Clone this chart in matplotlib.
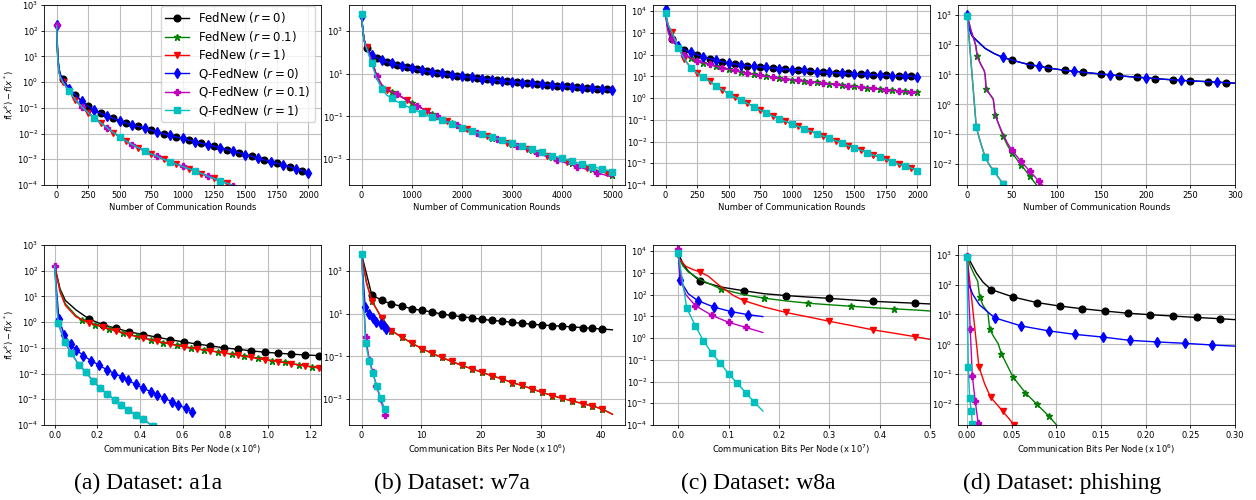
import matplotlib
matplotlib.use("Agg")
import matplotlib.pyplot as plt
from matplotlib.ticker import FixedLocator, NullLocator, FormatStrFormatter

plt.rcParams.update({
    "font.size": 6,
    "axes.linewidth": 0.6,
    "xtick.major.size": 2.2, "ytick.major.size": 2.2,
    "xtick.major.width": 0.6, "ytick.major.width": 0.6,
    "xtick.major.pad": 1.8, "ytick.major.pad": 1.8,
    "axes.labelpad": 2.4,
    "grid.linewidth": 0.8,
    "lines.linewidth": 1.0,
    "lines.markersize": 5,
})

labels = ["FedNew ($r=0$)", "FedNew ($r=0.1$)", "FedNew ($r=1$)",
          "Q-FedNew ($r=0$)", "Q-FedNew ($r=0.1$)", "Q-FedNew ($r=1$)"]
colors = ["k", "g", "r", "b", "m", "c"]
markers = ["o", "*", "v", "d", "P", "s"]
captions = ["(a) Dataset: a1a", "(b) Dataset: w7a", "(c) Dataset: w8a", "(d) Dataset: phishing"]

# ---------------- a1a, rounds ----------------
a1a_rounds = [0, 5, 10, 20, 30] + list(range(50, 2001, 50))
a1a_rounds_r0 = [160, 40, 9, 3.2, 2.0, 1.3, 0.55, 0.32, 0.18, 0.115, 0.08, 0.062, 0.048, 0.039, 0.032,
                 0.026, 0.022, 0.019, 0.016, 0.0135, 0.0115, 0.0098, 0.0085, 0.0074, 0.0065, 0.0056,
                 0.0049, 0.0042, 0.0037, 0.0032, 0.0028, 0.0024, 0.0021, 0.0018, 0.0015, 0.0013,
                 0.0011, 0.00095, 0.00082, 0.0007, 0.0006, 0.00051, 0.00043, 0.00036, 0.0003]
a1a_rounds_fast = [160, 30, 7, 2.4, 1.6, 1.0, 0.45, 0.2, 0.11, 0.065, 0.04, 0.026, 0.017, 0.011, 0.0075,
                   0.0052, 0.0037, 0.0028, 0.0021, 0.0016, 0.0013, 0.001, 0.0008, 0.00065, 0.00053,
                   0.00043, 0.00035, 0.00028, 0.00022, 0.00018, 0.00014, 0.00012, 0.000095]

# ---------------- w7a, rounds ----------------
w7a_rounds = [0, 20, 50] + list(range(100, 5001, 100))
w7a_rounds_r0 = [5000, 1500, 350, 150, 75, 54, 42, 35, 30, 26, 23, 20, 18, 16, 14.5, 13, 12, 11, 10.2, 9.4,
                 8.7, 8.1, 7.5, 7.0, 6.6, 6.2, 5.8, 5.5, 5.2, 4.9, 4.6, 4.4, 4.2, 4.0, 3.8, 3.6, 3.45,
                 3.3, 3.15, 3.0, 2.85, 2.72, 2.6, 2.5, 2.4, 2.3, 2.2, 2.12, 2.04, 1.96, 1.88, 1.82, 1.76]
w7a_rounds_fednew = [6000, 1500, 400, 170, 45, 8, 3.0, 1.8, 1.4, 1.1, 0.8, 0.6, 0.42, 0.32, 0.24, 0.18,
                     0.135, 0.1, 0.078, 0.061, 0.048, 0.038, 0.031, 0.025, 0.021, 0.017, 0.0145, 0.012,
                     0.0101, 0.0085, 0.0072, 0.006, 0.0051, 0.0043, 0.0036, 0.003, 0.0026, 0.0022,
                     0.0018, 0.0015, 0.0013, 0.0011, 0.00092, 0.00078, 0.00066, 0.00056, 0.00048,
                     0.00041, 0.00035, 0.0003, 0.00026, 0.00022, 0.00019]
w7a_rounds_q01 = [6000, 1500, 400, 170, 45, 8, 3.0, 1.8, 1.4, 1.1, 0.8, 0.6, 0.42, 0.32, 0.24, 0.18,
                  0.135, 0.1, 0.078, 0.061, 0.048, 0.038, 0.031, 0.025, 0.021, 0.017, 0.0145, 0.012,
                  0.0101, 0.0085, 0.0072, 0.006, 0.0049, 0.0041, 0.0034, 0.0028, 0.0023, 0.0019,
                  0.0016, 0.0013, 0.0011, 0.0009, 0.00076, 0.00064, 0.00054, 0.00046, 0.00039,
                  0.00033, 0.00028, 0.00024, 0.0002, 0.00017, 0.00015]
w7a_rounds_q1 = [6000, 1500, 350, 150, 30, 6, 2.0, 1.0, 0.7, 0.5, 0.4, 0.3, 0.23, 0.18, 0.14, 0.115,
                 0.095, 0.08, 0.068, 0.055, 0.045, 0.037, 0.03, 0.025, 0.021, 0.018, 0.015, 0.0125,
                 0.0105, 0.009, 0.0077, 0.0065, 0.0055, 0.0047, 0.004, 0.0034, 0.0029, 0.0024, 0.0021,
                 0.0017, 0.0015, 0.0013, 0.0011, 0.00094, 0.0008, 0.0007, 0.0006, 0.00052, 0.00046,
                 0.0004, 0.00034, 0.0003, 0.00026]

# ---------------- w8a, rounds ----------------
w8a_rounds = [0, 10, 25] + list(range(50, 2001, 50))
w8a_rounds_r0 = [12000, 3000, 1200, 500, 250, 170, 125, 100, 80, 65, 55, 47, 41, 37, 34, 31, 29, 27,
                 25.5, 24, 22.5, 21.5, 20.5, 19.5, 18.5, 17.5, 16.6, 15.8, 15.2, 14.6, 14.1, 13.6,
                 13.1, 12.7, 12.2, 11.7, 11.3, 11.0, 10.7, 10.4, 10.1, 9.9, 9.6]
w8a_rounds_r01 = [8000, 2500, 900, 500, 200, 100, 70, 53, 42, 35, 29, 25, 21, 18.5, 16, 14, 12.5, 11,
                  10, 9.2, 8.3, 7.6, 7.0, 6.5, 6.0, 5.6, 5.2, 4.8, 4.5, 4.2, 3.9, 3.7, 3.45, 3.2, 3.0,
                  2.8, 2.6, 2.45, 2.3, 2.15, 2.0, 1.9, 1.8]
w8a_rounds_r1 = [8000, 4000, 2000, 1100, 210, 60, 25, 14, 9.3, 5.8, 3.7, 2.4, 1.6, 1.1, 0.8, 0.57, 0.4,
                 0.28, 0.2, 0.15, 0.11, 0.085, 0.065, 0.05, 0.039, 0.03, 0.023, 0.018, 0.014, 0.011,
                 0.0084, 0.0065, 0.005, 0.004, 0.0031, 0.0024, 0.0019, 0.0015, 0.00115, 0.0009,
                 0.00075, 0.0006, 0.00045]

# ---------------- phishing, rounds ----------------
phishing_rounds = [0, 2, 5] + list(range(10, 301, 10))
phishing_rounds_r0 = [1000, 350, 200, 140, 74, 50, 37, 30, 25, 21, 19, 16.5, 15, 13.6, 12.8, 11.8, 11,
                      10.3, 9.7, 9.0, 8.5, 8.1, 7.7, 7.3, 6.9, 6.6, 6.3, 6.1, 5.9, 5.7, 5.5, 5.3, 5.1]
phishing_rounds_mid = [0, 4, 8, 9.5, 11, 15, 19, 20, 21, 25, 29, 30, 31, 35, 40, 45, 50, 55, 60, 65,
                       70, 75, 80, 85]
phishing_rounds_fednew01 = [900, 300, 130, 90, 40, 22, 13, 9, 3.3, 2.2, 1.5, 0.9, 0.45, 0.22, 0.085,
                            0.042, 0.024, 0.015, 0.0095, 0.0062, 0.0039, 0.0025, 0.0016, 0.001]
phishing_rounds_q01 = [900, 300, 130, 90, 40, 22, 13, 9, 3.3, 2.2, 1.5, 0.9, 0.45, 0.22, 0.1, 0.05,
                       0.029, 0.019, 0.0125, 0.0085, 0.0057, 0.004, 0.0027, 0.0019]
phishing_rounds_fast = [0, 5, 10, 15, 20, 25, 30, 35, 40]
phishing_rounds_r1 = [870, 12, 0.17, 0.05, 0.017, 0.009, 0.0058, 0.0035, 0.0022]

# ---------------- a1a, bits (x 1e6) ----------------
a1a_bits_x = [0, 0.025, 0.05, 0.1, 0.16, 0.225, 0.29, 0.35, 0.415, 0.48, 0.54, 0.605, 0.67, 0.73,
              0.795, 0.86, 0.92, 0.985, 1.05, 1.11, 1.175, 1.24, 1.3]
a1a_bits_fednew0 = [155, 20, 7, 3.0, 1.35, 0.8, 0.57, 0.42, 0.33, 0.26, 0.21, 0.17, 0.14, 0.12, 0.1,
                    0.088, 0.077, 0.068, 0.062, 0.057, 0.053, 0.05, 0.047]
a1a_bits_fednew1 = [155, 15, 4.5, 1.6, 0.95, 0.65, 0.45, 0.32, 0.24, 0.18, 0.14, 0.11, 0.09, 0.076,
                    0.063, 0.052, 0.043, 0.035, 0.029, 0.024, 0.02, 0.0165, 0.014]
a1a_bits_x01 = [0, 0.025, 0.05, 0.1, 0.13, 0.19, 0.255, 0.32, 0.385, 0.45, 0.51, 0.575, 0.64, 0.70,
                0.765, 0.83, 0.89, 0.955, 1.02, 1.08, 1.145, 1.21, 1.27]
a1a_bits_fednew01 = [155, 18, 5.2, 1.8, 1.2, 0.8, 0.55, 0.39, 0.28, 0.21, 0.16, 0.125, 0.1, 0.083,
                     0.07, 0.058, 0.048, 0.039, 0.032, 0.027, 0.022, 0.018, 0.0155]
a1a_bits_xq0 = [0, 0.02, 0.045, 0.075, 0.1, 0.135, 0.17, 0.21, 0.245, 0.28, 0.315, 0.345, 0.38, 0.415,
                0.45, 0.48, 0.515, 0.55, 0.58, 0.615, 0.645, 0.66]
a1a_bits_q0 = [155, 1.3, 0.33, 0.14, 0.085, 0.05, 0.032, 0.021, 0.014, 0.01, 0.0075, 0.0055, 0.0038,
               0.0027, 0.002, 0.0015, 0.0011, 0.0008, 0.0006, 0.00045, 0.00033, 0.00029]
a1a_bits_xq = [0, 0.016, 0.047, 0.078, 0.113, 0.146, 0.18, 0.214, 0.246, 0.282, 0.313, 0.344, 0.38,
               0.415, 0.46]
a1a_bits_q = [155, 0.94, 0.17, 0.063, 0.022, 0.0115, 0.0052, 0.0027, 0.0016, 0.00095, 0.0006, 0.00039,
              0.00025, 0.00017, 0.00009]

# ---------------- w7a, bits (x 1e6) ----------------
w7a_bits_x0 = [0, 1.7, 3.4, 5.0, 6.7, 8.4, 10.1, 11.8, 13.4, 15.1, 16.8, 18.5, 20.2, 21.8, 23.5, 25.2,
               26.9, 28.6, 30.2, 31.9, 33.6, 35.3, 37.0, 38.6, 40.3, 42.0]
w7a_bits_fednew0 = [6000, 76, 41, 28, 22, 17, 14, 12, 9.5, 8.2, 7.1, 6.3, 5.4, 4.8, 4.4, 3.9, 3.5, 3.2,
                    2.9, 2.75, 2.55, 2.4, 2.2, 2.05, 1.9, 1.75]
w7a_bits_x1 = [0, 0.8, 1.7, 3.4, 5.0, 6.7, 8.4, 10.1, 11.8, 13.4, 15.1, 16.8, 18.5, 20.2, 21.8, 23.5,
               25.2, 26.9, 28.6, 30.2, 31.9, 33.6, 35.3, 37.0, 38.6, 40.3, 42.0]
w7a_bits_fednew1 = [6000, 300, 40, 6, 1.6, 0.8, 0.42, 0.23, 0.14, 0.09, 0.058, 0.038, 0.026, 0.018,
                    0.0125, 0.009, 0.006, 0.0044, 0.003, 0.0021, 0.0015, 0.0011, 0.00083, 0.00063,
                    0.00049, 0.00035, 0.0002]
w7a_bits_xq0 = [0, 0.6, 1.2, 1.9, 2.5, 3.2, 3.7, 4.1]
w7a_bits_q0 = [6000, 21, 9.6, 6.3, 4.2, 3.3, 2.6, 1.9]
w7a_bits_xq01 = [0, 0.67, 1.3, 1.9, 2.5, 3.2, 3.9]
w7a_bits_q01 = [6000, 0.85, 0.07, 0.018, 0.004, 0.001, 0.00019]
w7a_bits_xq1 = [0, 0.67, 1.28, 1.84, 2.6, 3.2, 3.9]
w7a_bits_q1 = [6000, 0.42, 0.063, 0.017, 0.004, 0.0011, 0.00035]

# ---------------- w8a, bits (x 1e7) ----------------
w8a_bits_x0 = [0, 0.01, 0.02, 0.043, 0.086, 0.13, 0.17, 0.214, 0.257, 0.3, 0.343, 0.386, 0.43, 0.471, 0.5]
w8a_bits_fednew0 = [8000, 2500, 1200, 420, 220, 150, 110, 90, 77, 67, 57, 49, 44, 40, 37]
w8a_bits_x01 = [0, 0.01, 0.02, 0.043, 0.085, 0.13, 0.171, 0.214, 0.258, 0.3, 0.343, 0.386, 0.429, 0.471, 0.5]
w8a_bits_fednew01 = [5000, 2000, 1100, 500, 180, 100, 68, 51, 40, 34, 29, 25, 22, 19.5, 17.6]
w8a_bits_x1 = [0, 0.015, 0.03, 0.043, 0.06, 0.075, 0.09, 0.11, 0.13, 0.17, 0.214, 0.257, 0.3, 0.343,
               0.386, 0.43, 0.471, 0.5]
w8a_bits_fednew1 = [5000, 2000, 1400, 1100, 700, 350, 190, 90, 53, 27, 15, 9.5, 5.9, 3.8, 2.4, 1.65,
                    1.15, 0.87]
w8a_bits_xq0 = [0, 0.004, 0.02, 0.0385, 0.072, 0.105, 0.138, 0.168]
w8a_bits_q0 = [10000, 450, 110, 53, 26, 16.5, 12, 9.7]
w8a_bits_xq01 = [0, 0.005, 0.015, 0.034, 0.067, 0.1, 0.134, 0.168]
w8a_bits_q01 = [12000, 500, 100, 31, 11, 5.3, 3.1, 1.8]
w8a_bits_xq1 = [0, 0.017, 0.034, 0.05, 0.067, 0.084, 0.1, 0.117, 0.134, 0.15, 0.168]
w8a_bits_q1 = [8000, 24, 3.7, 0.75, 0.2, 0.068, 0.023, 0.0084, 0.0031, 0.0012, 0.00044]

# ---------------- phishing, bits (x 1e6) ----------------
phishing_bits_x0 = [0, 0.005, 0.0105, 0.018, 0.027, 0.052, 0.078, 0.104, 0.129, 0.154, 0.18, 0.205,
                    0.231, 0.257, 0.283, 0.31]
phishing_bits_fednew0 = [950, 500, 245, 120, 68, 38, 25, 19, 15.5, 13, 11, 9.8, 8.8, 7.9, 7.2, 6.4]
phishing_bits_x01 = [0, 0.004, 0.008, 0.012, 0.0142, 0.018, 0.0235, 0.0254, 0.03, 0.035, 0.0385, 0.045,
                     0.0515, 0.0654, 0.0784, 0.0915, 0.101]
phishing_bits_fednew01 = [900, 400, 220, 130, 39, 20, 11.5, 3.2, 1.8, 1.05, 0.49, 0.2, 0.081, 0.024,
                          0.0098, 0.004, 0.0019]
phishing_bits_x1 = [0, 0.005, 0.0134, 0.02, 0.0265, 0.04, 0.053]
phishing_bits_fednew1 = [950, 40, 0.18, 0.046, 0.017, 0.0058, 0.002]
phishing_bits_xq0 = [0, 0.002, 0.0067, 0.014, 0.031, 0.061, 0.092, 0.121, 0.152, 0.182, 0.213, 0.244,
                     0.274, 0.31]
phishing_bits_q0 = [1000, 100, 46, 21, 7.7, 4.1, 2.8, 2.15, 1.75, 1.36, 1.2, 1.08, 0.95, 0.84]
phishing_bits_xq01 = [0, 0.0037, 0.006, 0.0093, 0.0125]
phishing_bits_q01 = [900, 3.3, 0.088, 0.0126, 0.0024]
phishing_bits_xq1 = [0, 0.0015, 0.003, 0.0049, 0.0062]
phishing_bits_q1 = [850, 0.17, 0.016, 0.0058, 0.0021]


def on_grid(x, start, step):
    return [i for i, v in enumerate(x) if v >= start and (v - start) % step == 0]


def draw(ax, curves):
    for k, (x, y, me) in enumerate(curves):
        if isinstance(me, tuple):
            me = on_grid(x[:len(y)], *me)
        ax.plot(x[:len(y)], y, color=colors[k], marker=markers[k], markevery=me,
                ms=5 if markers[k] == "d" else 4.8, label=labels[k])


fig = plt.figure(figsize=(12.56, 5.0), dpi=100)
lefts = [44, 349, 653, 958]
widths = [277, 276, 277, 277]
W, H = 1256, 500

rounds_curves = [
    [(a1a_rounds, a1a_rounds_r0, (50, 100)), (a1a_rounds, a1a_rounds_fast, (100, 200)),
     (a1a_rounds, a1a_rounds_fast, (50, 100)), (a1a_rounds, a1a_rounds_r0, (0, 100)),
     (a1a_rounds, a1a_rounds_fast, (0, 200)), (a1a_rounds, a1a_rounds_fast, (100, 200))],
    [(w7a_rounds, w7a_rounds_r0, (100, 200)), (w7a_rounds, w7a_rounds_fednew, (200, 400)),
     (w7a_rounds, w7a_rounds_fednew, (100, 400)), (w7a_rounds, w7a_rounds_r0, (0, 200)),
     (w7a_rounds, w7a_rounds_q01, (300, 400)), (w7a_rounds, w7a_rounds_q1, (0, 200))],
    [(w8a_rounds, w8a_rounds_r0, (50, 100)), (w8a_rounds, w8a_rounds_r01, (0, 100)),
     (w8a_rounds, w8a_rounds_r1, (50, 100)), (w8a_rounds, w8a_rounds_r0, (0, 100)),
     (w8a_rounds, w8a_rounds_r01, (50, 100)), (w8a_rounds, w8a_rounds_r1, (0, 100))],
    [(phishing_rounds, phishing_rounds_r0, (50, 20)),
     (phishing_rounds_mid, phishing_rounds_fednew01, [4, 8, 12, 14, 16, 18, 20]),
     (phishing_rounds_fast, phishing_rounds_r1, (0, 10)),
     (phishing_rounds, phishing_rounds_r0, [0] + list(range(6, 33, 4))),
     (phishing_rounds_mid, phishing_rounds_q01, [16, 18, 20, 22]),
     (phishing_rounds_fast, phishing_rounds_r1, (0, 10))],
]

bits_curves = [
    [(a1a_bits_x, a1a_bits_fednew0, slice(4, 22)), (a1a_bits_x01, a1a_bits_fednew01, slice(4, None)),
     (a1a_bits_x, a1a_bits_fednew1, slice(4, 22)), (a1a_bits_xq0, a1a_bits_q0, slice(1, 21)),
     (a1a_bits_xq, a1a_bits_q, slice(0, None)), (a1a_bits_xq, a1a_bits_q, slice(1, None))],
    [(w7a_bits_x0, w7a_bits_fednew0, slice(1, 25)), (w7a_bits_x1, w7a_bits_fednew1, slice(2, 26)),
     (w7a_bits_x1, w7a_bits_fednew1, slice(2, 26)), (w7a_bits_xq0, w7a_bits_q0, slice(1, None)),
     (w7a_bits_xq01, w7a_bits_q01, slice(1, None)), (w7a_bits_xq1, w7a_bits_q1, slice(0, None))],
    [(w8a_bits_x0, w8a_bits_fednew0, slice(3, 14, 2)), (w8a_bits_x01, w8a_bits_fednew01, slice(4, 13, 2)),
     (w8a_bits_x1, w8a_bits_fednew1, [3, 8, 10, 12, 14, 16]), (w8a_bits_xq0, w8a_bits_q0, [1, 3, 4, 5, 6]),
     (w8a_bits_xq01, w8a_bits_q01, [0, 3, 4, 5, 6]), (w8a_bits_xq1, w8a_bits_q1, slice(0, 10))],
    [(phishing_bits_x0, phishing_bits_fednew0, slice(4, 15)),
     (phishing_bits_x01, phishing_bits_fednew01, [4, 7, 10, 12, 13, 14, 15]),
     (phishing_bits_x1, phishing_bits_fednew1, [2, 4, 5, 6]),
     (phishing_bits_xq0, phishing_bits_q0, slice(4, 13)),
     (phishing_bits_xq01, phishing_bits_q01, slice(0, None)),
     (phishing_bits_xq1, phishing_bits_q1, slice(0, None))],
]

ylims = [(1e-4, 1e3), (10 ** -4.2, 10 ** 4.2), (1e-4, 10 ** 4.28), (2e-3, 2.1e3)]
yticks = [[10.0 ** k for k in range(-4, 4)], [1e-3, 1e-1, 1e1, 1e3],
          [10.0 ** k for k in range(-4, 5)], [10.0 ** k for k in range(-2, 4)]]
xlims_rounds = [(-100, 2100), (-250, 5250), (-100, 2100), (-10.5, 300)]
xticks_rounds = [range(0, 2001, 250), range(0, 5001, 1000), range(0, 2001, 250), range(0, 301, 50)]
xlims_bits = [(-0.05, 1.25), (-2.1, 44.1), (-0.05, 0.5), (-0.01, 0.3)]
xticks_bits = [[0, 0.2, 0.4, 0.6, 0.8, 1.0, 1.2], [0, 10, 20, 30, 40],
               [0, 0.1, 0.2, 0.3, 0.4, 0.5], [0, 0.05, 0.1, 0.15, 0.2, 0.25, 0.3]]
bits_fmt = ["%.1f", "%d", "%.1f", "%.2f"]
bits_label = ["Communication Bits Per Node (x 10$^6$)", "Communication Bits Per Node (x 10$^6$)",
              "Communication Bits Per Node (x 10$^7$)", "Communication Bits Per Node (x 10$^6$)"]
caption_x = [148, 452, 758, 1062]

for j in range(4):
    for row in range(2):
        bottom = 1 - 185 / H if row == 0 else 1 - 425 / H
        ax = fig.add_axes([lefts[j] / W, bottom, widths[j] / W, 180 / H])
        ax.set_yscale("log")
        if row == 0:
            draw(ax, rounds_curves[j])
            ax.set_xlim(*xlims_rounds[j])
            ax.xaxis.set_major_locator(FixedLocator(list(xticks_rounds[j])))
            ax.set_xlabel("Number of Communication Rounds")
        else:
            draw(ax, bits_curves[j])
            ax.set_xlim(*xlims_bits[j])
            ax.xaxis.set_major_locator(FixedLocator(xticks_bits[j]))
            ax.xaxis.set_major_formatter(FormatStrFormatter(bits_fmt[j]))
            ax.set_xlabel(bits_label[j])
        ax.set_ylim(*ylims[j])
        ax.yaxis.set_major_locator(FixedLocator(yticks[j]))
        ax.yaxis.set_minor_locator(NullLocator())
        ax.grid(True, color="#bdbdbd")
        ax.set_axisbelow(True)
        if j == 0:
            ax.set_ylabel("$f(x^k) - f(x^*)$", labelpad=0.8)
            if row == 0:
                ax.legend(loc="upper right", bbox_to_anchor=(0.978, 0.994), borderaxespad=0,
                          fontsize=8.5, labelspacing=0.3, borderpad=0.35)
    fig.text(caption_x[j] / W, 1 - 483 / H, captions[j], family="Liberation Serif", fontsize=17,
             ha="center", va="center")

fig.savefig("out.png", dpi=100)
